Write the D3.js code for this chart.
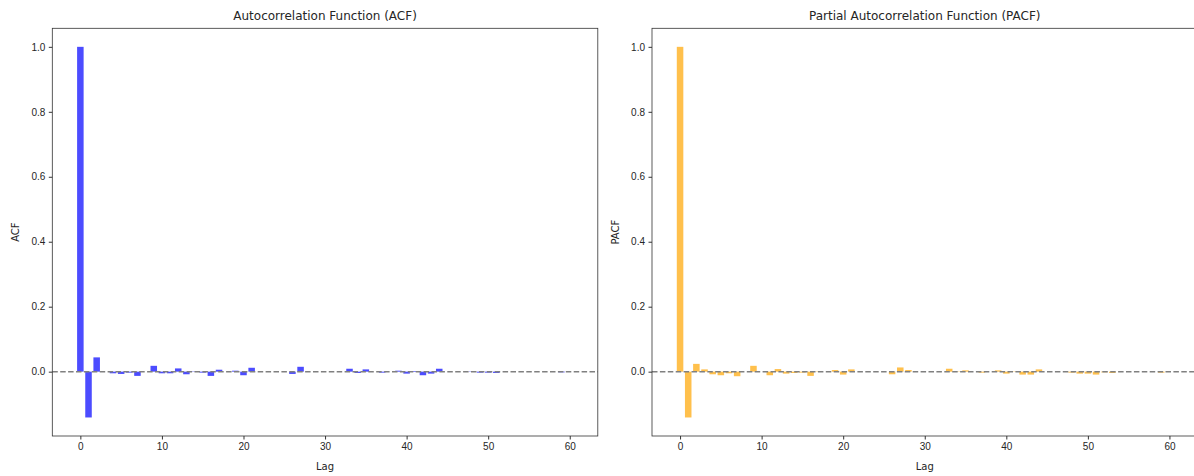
<!DOCTYPE html>
<html>
<head>
<meta charset="utf-8">
<title>ACF / PACF</title>
<style>
  body { margin: 0; background: #fff; }
  svg { display: block; font-family: "DejaVu Sans", sans-serif; }
  .tick text { font-size: 10px; fill: #262626; }
  .tick line { stroke: #333; }
  .domain { display: none; }
</style>
</head>
<body>
<svg id="chart" width="1194" height="476"></svg>
<script src="https://d3js.org/d3.v7.min.js"></script>
<script>
// lags 0..60
var lags = d3.range(0, 61);

var acfValues = [
  1.0, -0.141, 0.044, 0.000, -0.005, -0.007, -0.003, -0.013, 0.000, 0.018,
  -0.005, -0.005, 0.010, -0.008, 0.001, -0.003, -0.013, 0.006, 0.000, 0.003,
  -0.011, 0.012, 0.000, 0.000, 0.000, 0.000, -0.007, 0.015, 0.000, 0.000,
  0.000, 0.000, 0.000, 0.009, -0.004, 0.007, 0.000, -0.003, 0.000, 0.003,
  -0.006, 0.002, -0.011, -0.006, 0.009, 0.000, 0.000, 0.000, -0.001, -0.003,
  -0.003, -0.004, 0.000, 0.000, 0.000, 0.000, 0.000, 0.000, 0.000, -0.002,
  0.000
];

var pacfValues = [
  1.0, -0.141, 0.024, 0.007, -0.008, -0.011, -0.005, -0.014, 0.000, 0.018,
  0.000, -0.011, 0.008, -0.006, -0.004, -0.003, -0.013, 0.001, 0.000, 0.005,
  -0.009, 0.007, 0.000, 0.000, 0.000, 0.000, -0.008, 0.013, 0.005, 0.000,
  0.000, 0.000, 0.000, 0.009, 0.001, 0.004, 0.000, -0.003, 0.000, 0.004,
  -0.006, -0.001, -0.009, -0.009, 0.007, 0.000, 0.000, 0.000, -0.003, -0.006,
  -0.006, -0.009, -0.002, -0.004, 0.000, 0.000, 0.000, 0.000, 0.000, -0.003,
  0.000
];

var xTicks = [0, 10, 20, 30, 40, 50, 60];
var yTicks = [0.0, 0.2, 0.4, 0.6, 0.8, 1.0];

var svg = d3.select('#chart');
var plotW = 545.5, plotH = 407.7, plotTop = 28.3;

function drawPanel(left, values, color, title, ylabel) {
  var barW = 0.8;
  var x0 = -barW / 2, x1 = lags[lags.length - 1] + barW / 2;
  var xPad = (x1 - x0) * 0.05;
  var x = d3.scaleLinear().domain([x0 - xPad, x1 + xPad]).range([0, plotW]);

  var lo = Math.min(0, d3.min(values)), hi = Math.max(0, d3.max(values));
  var yPad = (hi - lo) * 0.05;
  var y = d3.scaleLinear().domain([lo - yPad, hi + yPad]).range([plotH, 0]);

  var g = svg.append('g').attr('transform', 'translate(' + left + ',' + plotTop + ')');

  g.selectAll('rect.bar')
    .data(lags)
    .enter().append('rect')
      .attr('class', 'bar')
      .attr('x', function (d) { return x(d - barW / 2); })
      .attr('width', function (d) { return x(barW) - x(0); })
      .attr('y', function (d, i) { return y(Math.max(0, values[i])); })
      .attr('height', function (d, i) { return Math.abs(y(values[i]) - y(0)); })
      .attr('fill', color)
      .attr('fill-opacity', 0.7);

  // zero line
  g.append('line')
    .attr('x1', 0).attr('x2', plotW)
    .attr('y1', y(0)).attr('y2', y(0))
    .attr('stroke', '#808080')
    .attr('stroke-width', 1.5)
    .attr('stroke-dasharray', '5.5,2.4');

  g.append('g')
    .attr('transform', 'translate(0,' + plotH + ')')
    .call(d3.axisBottom(x).tickValues(xTicks).tickSize(3.5).tickPadding(3.5).tickFormat(d3.format('d')));

  g.append('g')
    .call(d3.axisLeft(y).tickValues(yTicks).tickSize(3.5).tickPadding(3.5).tickFormat(d3.format('.1f')));

  g.append('rect')
    .attr('width', plotW).attr('height', plotH)
    .attr('fill', 'none').attr('stroke', '#333').attr('stroke-width', 0.8);

  g.append('text')
    .attr('x', plotW / 2).attr('y', -8)
    .attr('text-anchor', 'middle')
    .attr('font-size', 12).attr('fill', '#262626')
    .text(title);

  g.append('text')
    .attr('x', plotW / 2).attr('y', plotH + 34)
    .attr('text-anchor', 'middle')
    .attr('font-size', 10).attr('fill', '#262626')
    .text('Lag');

  g.append('text')
    .attr('transform', 'translate(' + (-33) + ',' + (plotH / 2) + ') rotate(-90)')
    .attr('text-anchor', 'middle')
    .attr('font-size', 10).attr('fill', '#262626')
    .text(ylabel);
}

drawPanel(52.3, acfValues, 'blue', 'Autocorrelation Function (ACF)', 'ACF');
drawPanel(652, pacfValues, 'orange', 'Partial Autocorrelation Function (PACF)', 'PACF');
</script>
</body>
</html>
